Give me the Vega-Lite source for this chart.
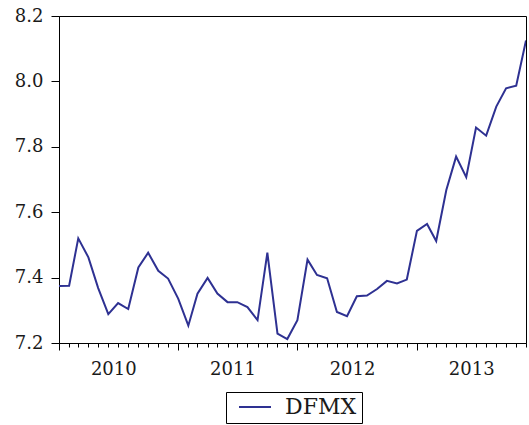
{
  "$schema": "https://vega.github.io/schema/vega-lite/v6.json",
  "width": 467,
  "height": 327,
  "autosize": "none",
  "padding": {"left": 59, "top": 16, "right": 3, "bottom": 82},
  "background": "white",
  "config": {
    "view": {"stroke": "#000", "strokeWidth": 1},
    "axis": {"grid": false, "domainColor": "#000", "tickColor": "#000", "labelColor": "#1a1a1a", "labelFont": "DejaVu Serif", "labelFontSize": 18, "title": null}
  },
  "data": {
    "values": [
      {"date": "2010-01-01", "v": 7.374, "series": "DFMX"}, {"date": "2010-02-01", "v": 7.375, "series": "DFMX"}, {"date": "2010-03-01", "v": 7.520, "series": "DFMX"}, {"date": "2010-04-01", "v": 7.462, "series": "DFMX"},
      {"date": "2010-05-01", "v": 7.368, "series": "DFMX"}, {"date": "2010-06-01", "v": 7.288, "series": "DFMX"}, {"date": "2010-07-01", "v": 7.322, "series": "DFMX"}, {"date": "2010-08-01", "v": 7.304, "series": "DFMX"},
      {"date": "2010-09-01", "v": 7.431, "series": "DFMX"}, {"date": "2010-10-01", "v": 7.476, "series": "DFMX"}, {"date": "2010-11-01", "v": 7.421, "series": "DFMX"}, {"date": "2010-12-01", "v": 7.397, "series": "DFMX"},
      {"date": "2011-01-01", "v": 7.336, "series": "DFMX"}, {"date": "2011-02-01", "v": 7.253, "series": "DFMX"}, {"date": "2011-03-01", "v": 7.351, "series": "DFMX"}, {"date": "2011-04-01", "v": 7.399, "series": "DFMX"},
      {"date": "2011-05-01", "v": 7.351, "series": "DFMX"}, {"date": "2011-06-01", "v": 7.325, "series": "DFMX"}, {"date": "2011-07-01", "v": 7.325, "series": "DFMX"}, {"date": "2011-08-01", "v": 7.310, "series": "DFMX"},
      {"date": "2011-09-01", "v": 7.270, "series": "DFMX"}, {"date": "2011-10-01", "v": 7.476, "series": "DFMX"}, {"date": "2011-11-01", "v": 7.229, "series": "DFMX"}, {"date": "2011-12-01", "v": 7.212, "series": "DFMX"},
      {"date": "2012-01-01", "v": 7.270, "series": "DFMX"}, {"date": "2012-02-01", "v": 7.455, "series": "DFMX"}, {"date": "2012-03-01", "v": 7.408, "series": "DFMX"}, {"date": "2012-04-01", "v": 7.398, "series": "DFMX"},
      {"date": "2012-05-01", "v": 7.295, "series": "DFMX"}, {"date": "2012-06-01", "v": 7.282, "series": "DFMX"}, {"date": "2012-07-01", "v": 7.343, "series": "DFMX"}, {"date": "2012-08-01", "v": 7.345, "series": "DFMX"},
      {"date": "2012-09-01", "v": 7.365, "series": "DFMX"}, {"date": "2012-10-01", "v": 7.390, "series": "DFMX"}, {"date": "2012-11-01", "v": 7.382, "series": "DFMX"}, {"date": "2012-12-01", "v": 7.394, "series": "DFMX"},
      {"date": "2013-01-01", "v": 7.543, "series": "DFMX"}, {"date": "2013-02-01", "v": 7.564, "series": "DFMX"}, {"date": "2013-03-01", "v": 7.512, "series": "DFMX"}, {"date": "2013-04-01", "v": 7.668, "series": "DFMX"},
      {"date": "2013-05-01", "v": 7.770, "series": "DFMX"}, {"date": "2013-06-01", "v": 7.707, "series": "DFMX"}, {"date": "2013-07-01", "v": 7.859, "series": "DFMX"}, {"date": "2013-08-01", "v": 7.834, "series": "DFMX"},
      {"date": "2013-09-01", "v": 7.923, "series": "DFMX"}, {"date": "2013-10-01", "v": 7.979, "series": "DFMX"}, {"date": "2013-11-01", "v": 7.987, "series": "DFMX"}, {"date": "2013-12-01", "v": 8.125, "series": "DFMX"}
    ]
  },
  "mark": {"type": "line", "strokeWidth": 2, "clip": true},
  "encoding": {
    "x": {
      "field": "date",
      "type": "temporal",
      "scale": {"type": "utc", "domain": [{"year": 2010, "month": 1, "date": 1, "utc": true}, {"year": 2013, "month": 12, "date": 1, "utc": true}], "nice": false},
      "axis": {
        "tickCount": {"interval": "month", "step": 1},
        "tickSize": {"condition": {"test": "utcmonth(datum.value) == 0", "value": 7}, "value": 4},
        "labelExpr": "utcmonth(datum.value) == 5 ? utcFormat(datum.value, '%Y') : ''",
        "labelOffset": 5,
        "labelOverlap": false,
        "labelFlush": false,
        "labelBound": false,
        "labelPadding": 13
      }
    },
    "y": {
      "field": "v",
      "type": "quantitative",
      "scale": {"domain": [7.2, 8.2], "nice": false, "zero": false},
      "axis": {"values": [7.2, 7.4, 7.6, 7.8, 8.0, 8.2], "format": ".1f", "tickSize": 8, "labelPadding": 8}
    },
    "color": {
      "field": "series",
      "type": "nominal",
      "scale": {"range": ["#2E3192"]},
      "legend": {
        "title": null,
        "orient": "none",
        "legendX": 167,
        "legendY": 376,
        "strokeColor": "#000",
        "padding": 5,
        "clipHeight": 20,
        "symbolOffset": 7,
        "symbolType": "stroke",
        "symbolSize": 1024,
        "symbolStrokeWidth": 2,
        "labelFont": "DejaVu Serif",
        "labelFontSize": 22,
        "labelColor": "#1a1a1a",
        "labelOffset": 13
      }
    }
  }
}
